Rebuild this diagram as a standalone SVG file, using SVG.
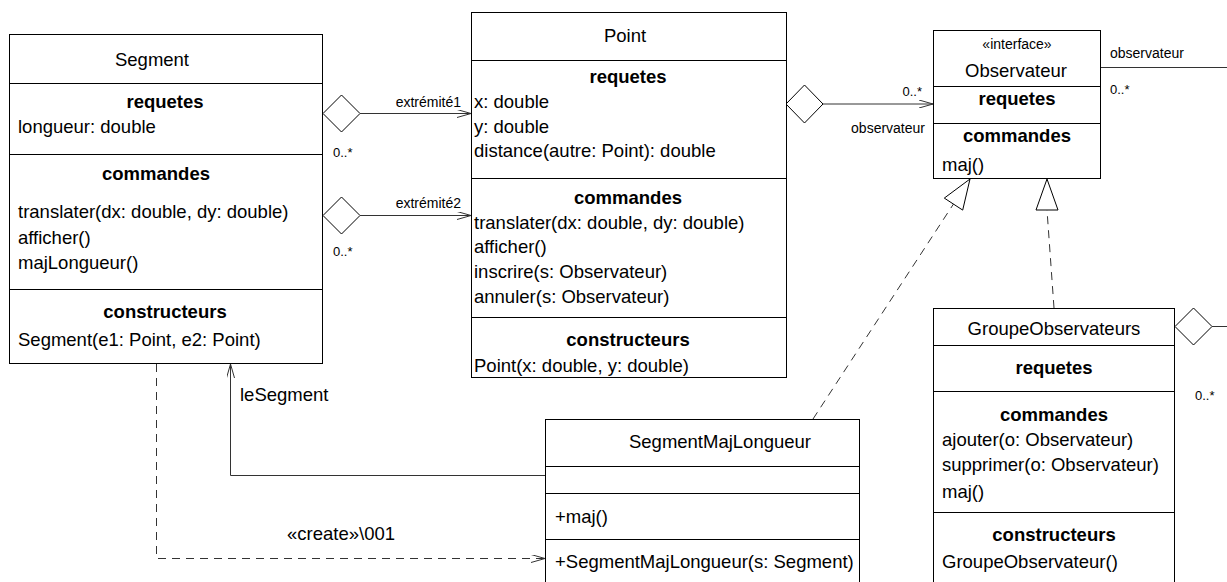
<svg xmlns="http://www.w3.org/2000/svg" width="1227" height="582" viewBox="0 0 1227 582">
<style>
.box{fill:#fff;stroke:#000;stroke-width:1}
.sep{stroke:#000;stroke-width:1}
text{font-family:"Liberation Sans",Arial,sans-serif;fill:#000}
.t{font-size:18.5px}
.b{font-size:18.5px;font-weight:bold}
.s{font-size:14px}
.m{font-size:13px}
.c{text-anchor:middle}
.e{text-anchor:end}
.ln{fill:none;stroke:#333;stroke-width:1}
.dash{fill:none;stroke:#333;stroke-width:1;stroke-dasharray:8,6}
.dia{fill:#fff;stroke:#000;stroke-width:1}
.tri{fill:#fff;stroke:#000;stroke-width:1}
</style>
<defs>
<marker id="open" viewBox="0 0 14 8" refX="14" refY="4" markerWidth="14" markerHeight="8" markerUnits="userSpaceOnUse" orient="auto">
<path d="M0,0 L14,4 L0,8" fill="none" stroke="#333" stroke-width="1"/>
</marker>
</defs>
<rect width="1227" height="582" fill="#fff"/>

<g id="connectors">
<polygon class="dia" points="323,113.5 341.5,95 360,113.5 341.5,132"/>
<line class="ln" x1="360" y1="113.5" x2="471" y2="113.5" marker-end="url(#open)"/>
<text class="s e" x="461" y="107">extrémité1</text>
<text class="m" x="333" y="157">0..*</text>

<polygon class="dia" points="323,215.5 341.5,197 360,215.5 341.5,234"/>
<line class="ln" x1="360" y1="215.5" x2="471" y2="215.5" marker-end="url(#open)"/>
<text class="s e" x="461" y="208">extrémité2</text>
<text class="m" x="333" y="256">0..*</text>

<polygon class="dia" points="786,104 804.5,85 823,104 804.5,123"/>
<line class="ln" x1="823" y1="104" x2="933" y2="104" marker-end="url(#open)"/>
<text class="m e" x="922" y="96">0..*</text>
<text class="s e" x="925" y="133">observateur</text>

<line class="ln" x1="1100" y1="67.5" x2="1227" y2="67.5"/>
<text class="s" x="1110" y="58">observateur</text>
<text class="m" x="1110" y="94">0..*</text>

<polygon class="dia" points="1175,326.5 1193.5,308 1212,326.5 1193.5,345"/>
<line class="ln" x1="1212" y1="326.5" x2="1227" y2="326.5"/>
<text class="m" x="1195" y="400">0..*</text>

<line class="dash" x1="813" y1="419" x2="953.5" y2="204"/>
<polygon class="tri" points="970,179 962.7,210.1 944.3,198.1"/>

<line class="dash" x1="1054" y1="308" x2="1047" y2="210"/>
<polygon class="tri" points="1047,179 1058,210 1036,210"/>

<polyline class="ln" points="545,475.5 230.5,475.5 230.5,364" marker-end="url(#open)"/>
<text class="t" x="240" y="401">leSegment</text>

<polyline class="dash" points="156.5,364 156.5,558.5 545,558.5" marker-end="url(#open)"/>
<text class="t" x="287" y="540">«create»\001</text>
</g>

<g id="Segment">
<rect class="box" x="9.5" y="34.5" width="313" height="329"/>
<line class="sep" x1="9.5" y1="83.5" x2="322.5" y2="83.5"/>
<line class="sep" x1="9.5" y1="154.5" x2="322.5" y2="154.5"/>
<line class="sep" x1="9.5" y1="289.5" x2="322.5" y2="289.5"/>
<text class="t c" x="152" y="66">Segment</text>
<text class="b c" x="165" y="108">requetes</text>
<text class="t" x="18" y="133">longueur: double</text>
<text class="b c" x="156" y="180">commandes</text>
<text class="t" x="18" y="218">translater(dx: double, dy: double)</text>
<text class="t" x="18" y="244">afficher()</text>
<text class="t" x="18" y="269">majLongueur()</text>
<text class="b c" x="165" y="318">constructeurs</text>
<text class="t" x="18" y="346">Segment(e1: Point, e2: Point)</text>
</g>

<g id="Point">
<rect class="box" x="471.5" y="12.5" width="315" height="365"/>
<line class="sep" x1="471.5" y1="60.5" x2="786.5" y2="60.5"/>
<line class="sep" x1="471.5" y1="178.5" x2="786.5" y2="178.5"/>
<line class="sep" x1="471.5" y1="317.5" x2="786.5" y2="317.5"/>
<text class="t c" x="625" y="42">Point</text>
<text class="b c" x="628" y="83">requetes</text>
<text class="t" x="474" y="108">x: double</text>
<text class="t" x="474" y="133">y: double</text>
<text class="t" x="474" y="157">distance(autre: Point): double</text>
<text class="b c" x="628" y="204">commandes</text>
<text class="t" x="474" y="229">translater(dx: double, dy: double)</text>
<text class="t" x="474" y="253">afficher()</text>
<text class="t" x="474" y="278">inscrire(s: Observateur)</text>
<text class="t" x="474" y="303">annuler(s: Observateur)</text>
<text class="b c" x="628" y="346">constructeurs</text>
<text class="t" x="474" y="372">Point(x: double, y: double)</text>
</g>

<g id="Observateur">
<rect class="box" x="933.5" y="30.5" width="167" height="148"/>
<line class="sep" x1="933.5" y1="86.5" x2="1100.5" y2="86.5"/>
<line class="sep" x1="933.5" y1="123.5" x2="1100.5" y2="123.5"/>
<text class="s c" x="1017" y="49">«interface»</text>
<text class="t c" x="1016" y="77">Observateur</text>
<text class="b c" x="1017" y="105">requetes</text>
<text class="b c" x="1017" y="142">commandes</text>
<text class="t" x="942" y="171">maj()</text>
</g>

<g id="GroupeObservateurs">
<rect class="box" x="933.5" y="308.5" width="241" height="300"/>
<line class="sep" x1="933.5" y1="345.5" x2="1174.5" y2="345.5"/>
<line class="sep" x1="933.5" y1="391.5" x2="1174.5" y2="391.5"/>
<line class="sep" x1="933.5" y1="512.5" x2="1174.5" y2="512.5"/>
<text class="t c" x="1054" y="335">GroupeObservateurs</text>
<text class="b c" x="1054" y="374">requetes</text>
<text class="b c" x="1054" y="421">commandes</text>
<text class="t" x="942" y="446">ajouter(o: Observateur)</text>
<text class="t" x="942" y="471">supprimer(o: Observateur)</text>
<text class="t" x="942" y="498">maj()</text>
<text class="b c" x="1054" y="541">constructeurs</text>
<text class="t" x="942" y="568">GroupeObservateur()</text>
</g>

<g id="SegmentMajLongueur">
<rect class="box" x="545.5" y="419.5" width="314" height="200"/>
<line class="sep" x1="545.5" y1="466.5" x2="859.5" y2="466.5"/>
<line class="sep" x1="545.5" y1="493.5" x2="859.5" y2="493.5"/>
<line class="sep" x1="545.5" y1="539.5" x2="859.5" y2="539.5"/>
<text class="t c" x="720" y="448">SegmentMajLongueur</text>
<text class="t" x="555" y="523">+maj()</text>
<text class="t" x="555" y="568">+SegmentMajLongueur(s: Segment)</text>
</g>
</svg>
